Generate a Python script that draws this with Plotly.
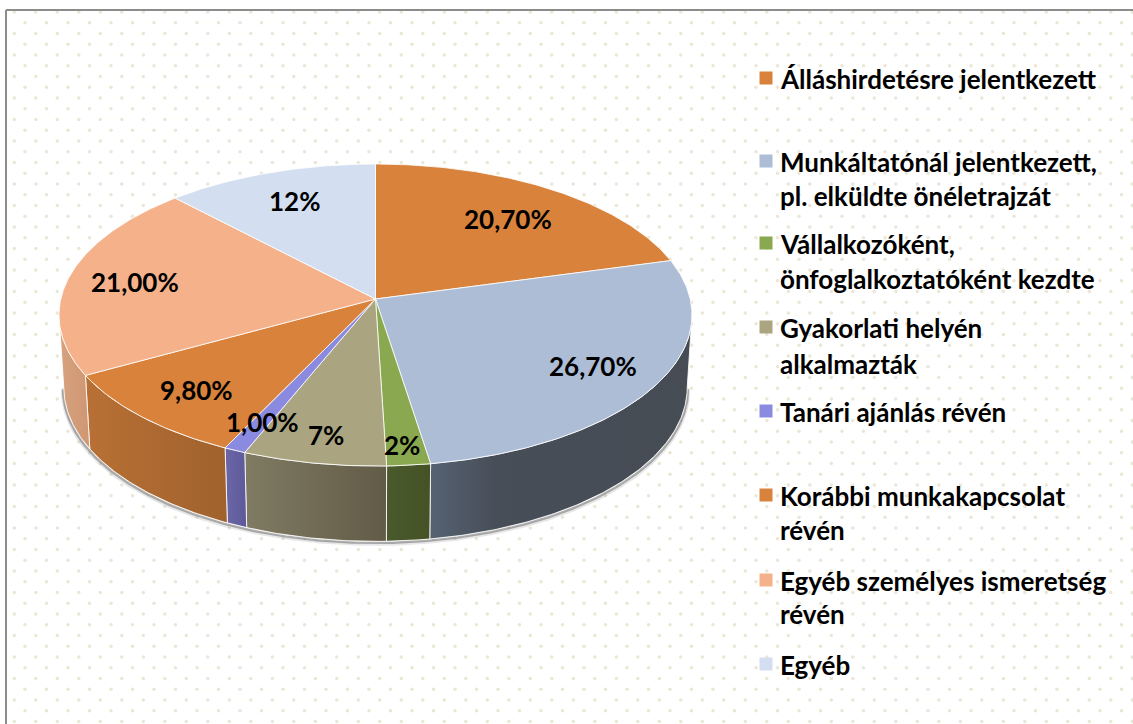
import numpy as np
import plotly.graph_objects as go

categories = ["Álláshirdetésre jelentkezett",
              "Munkáltatónál jelentkezett, pl. elküldte önéletrajzát",
              "Vállalkozóként, önfoglalkoztatóként kezdte",
              "Gyakorlati helyén alkalmazták",
              "Tanári ajánlás révén",
              "Korábbi munkakapcsolat révén",
              "Egyéb személyes ismeretség révén",
              "Egyéb"]
values = [20.7, 26.7, 2, 6.6, 1, 9.8, 21, 12]
value_labels = ["20,70%", "26,70%", "2%", "7%", "1,00%", "9,80%", "21,00%", "12%"]
top_colors = ["#D9823B", "#ADBDD6", "#8AA84F", "#AAA580", "#8A8AE0", "#D9823B", "#F4B18A", "#D3DFF0"]
wall_stops = [
    [[0, "#B87035"], [1, "#A5652F"]],
    [[0, "#566272"], [0.25, "#474E58"], [1, "#464C54"]],
    [[0, "#4A5A2C"], [1, "#445226"]],
    [[0, "#807B63"], [1, "#625B47"]],
    [[0, "#6A66A8"], [1, "#5E5A98"]],
    [[0, "#B87035"], [1, "#A0622C"]],
    [[0, "#D8A27F"], [1, "#CF9672"]],
    [[0, "#9AA5B5"], [1, "#9AA5B5"]],
]
label_xy = [(508, 220), (593, 367), (402, 446), (326, 436), (262, 423), (196, 391), (135, 283), (294, 202)]
legend_lines = [(["Álláshirdetésre jelentkezett"], [80]),
                (["Munkáltatónál jelentkezett,", "pl. elküldte önéletrajzát"], [163, 197]),
                (["Vállalkozóként,", "önfoglalkoztatóként kezdte"], [245, 280]),
                (["Gyakorlati helyén", "alkalmazták"], [329, 365]),
                (["Tanári ajánlás révén"], [413]),
                (["Korábbi munkakapcsolat", "révén"], [497, 531]),
                (["Egyéb személyes ismeretség", "révén"], [582, 615]),
                (["Egyéb"], [666])]

FONT = "Lato"
CX, CY = 375.5, 299.0
RX, RY, K = 314.7, 149.3, 0.106
DEPTH, SHRINK_X, SHRINK_Y = 72.0, 0.985, 1.02


def project(theta, lower=False):
    u, v = np.sin(theta), -np.cos(theta)
    w = 1 - K * v
    sx = SHRINK_X if lower else 1.0
    sy = SHRINK_Y if lower else 1.0
    return CX + sx * RX * u / w, CY + (DEPTH if lower else 0) + sy * RY * v / w


def arc(a, b):
    return np.linspace(a, b, max(int(abs(b - a) / 0.01), 2))


total = sum(values)
edges = np.concatenate([[0], np.cumsum(values)]) / total * 2 * np.pi
vis_a, vis_b = np.pi - np.arccos(K), np.pi + np.arccos(K)

fig = go.Figure()

# dotted background texture
dx, dy = [], []
for i, y in enumerate(np.arange(12, 724, 10.75)):
    xs = np.arange(14.3 if i % 2 == 0 else 25.0, 1133, 21.5)
    dx.extend(xs)
    dy.extend([y] * len(xs))
fig.add_trace(go.Scatter(x=dx, y=dy, mode="markers", hoverinfo="skip",
                         marker=dict(size=3.5, color="#EAE7D6", line=dict(width=0))))

# soft shadow under the drum
t = arc(vis_a, vis_b)
bx, by = project(t, True)
for off, wid, col in [(3, 3, "rgba(120,120,120,0.18)"), (1.5, 2.5, "rgba(110,110,110,0.55)")]:
    fig.add_trace(go.Scatter(x=bx + np.sign(bx - CX) * off * 0.5, y=by + off, mode="lines",
                             hoverinfo="skip", line=dict(color=col, width=wid)))

# side walls
for i in range(len(values)):
    a, b = max(edges[i], vis_a), min(edges[i + 1], vis_b)
    if a >= b:
        continue
    t = arc(a, b)
    x1, y1 = project(t)
    x2, y2 = project(t[::-1], True)
    fig.add_trace(go.Scatter(
        x=np.concatenate([x1, x2, x1[:1]]), y=np.concatenate([y1, y2, y1[:1]]),
        mode="lines", fill="toself", hoverinfo="skip",
        line=dict(color="rgba(255,255,255,0.85)", width=1),
        fillgradient=dict(type="horizontal", colorscale=wall_stops[i])))

# top face
for i, name in enumerate(categories):
    t = arc(edges[i], edges[i + 1])
    x, y = project(t)
    fig.add_trace(go.Scatter(
        x=np.concatenate([[CX], x, [CX]]), y=np.concatenate([[CY], y, [CY]]),
        mode="lines", fill="toself", fillcolor=top_colors[i], name=name,
        line=dict(color="rgba(255,255,255,0.8)", width=1), hoverinfo="name"))

# data labels
for (lx, ly), txt in zip(label_xy, value_labels):
    fig.add_annotation(x=lx, y=ly - 1, text=txt, showarrow=False, xanchor="center", yanchor="middle",
                       font=dict(family=FONT, size=26, weight="bold", color="#000000"))

# legend
sq_x, sq_y = [], []
for (lines, ys), col in zip(legend_lines, top_colors):
    sq_x.append(766)
    sq_y.append(ys[0] - 2)
    for line, y in zip(lines, ys):
        fig.add_annotation(x=778, y=y - 1, text=line, showarrow=False, xanchor="left", yanchor="middle",
                           font=dict(family=FONT, size=26, weight="bold", color="#000000"))
fig.add_trace(go.Scatter(x=sq_x, y=sq_y, mode="markers", hoverinfo="skip",
                         marker=dict(symbol="square", size=13, color=top_colors, line=dict(width=0))))

# frame (top and left edges only)
fig.add_shape(type="line", x0=6, x1=1133, y0=10, y1=10, line=dict(color="#8C8C8C", width=2))
fig.add_shape(type="line", x0=6, x1=6, y0=10, y1=724, line=dict(color="#8C8C8C", width=2))

fig.update_xaxes(range=[0, 1133], visible=False, fixedrange=True)
fig.update_yaxes(range=[724, 0], visible=False, fixedrange=True)
fig.update_layout(width=1133, height=724, margin=dict(l=0, r=0, t=0, b=0),
                  paper_bgcolor="#FFFFFF", plot_bgcolor="#FFFFFF", showlegend=False)
fig.write_html("out.html", config={"displayModeBar": False},
               post_script="document.body.style.margin='0';document.body.style.overflow='hidden';")
